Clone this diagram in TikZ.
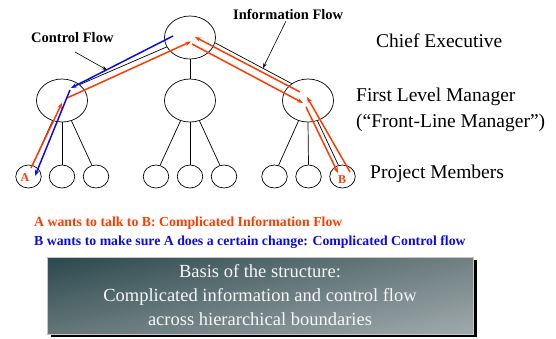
\documentclass[tikz,border=0pt]{standalone}
\usepackage{fontspec}
\setmainfont{Liberation Serif}
\usetikzlibrary{arrows.meta,shapes.geometric,shadings,shadows}

\definecolor{flowred}{RGB}{255,60,0}
\definecolor{flowblue}{RGB}{10,10,240}
\definecolor{slateA}{RGB}{42,72,78}
\definecolor{slateB}{RGB}{112,128,130}
\definecolor{slateC}{RGB}{100,118,120}
\definecolor{slateD}{RGB}{160,170,172}

\begin{document}
\begin{tikzpicture}[x=1pt,y=-1pt,
  mgr/.style={draw, ellipse, minimum width=51pt, minimum height=43pt, inner sep=0pt, line width=0.7pt},
  member/.style={draw, ellipse, minimum width=25.5pt, minimum height=23pt, inner sep=0pt, line width=0.7pt},
  treeedge/.style={line width=0.7pt},
  pointer/.style={line width=0.6pt, -{Stealth[length=5pt,width=3.5pt]}},
  redflow/.style={draw=flowred, line width=1.5pt, -{Stealth[length=6pt,width=4.5pt]}},
  blueflow/.style={draw=flowblue, line width=1.5pt, -{Stealth[length=6pt,width=4.5pt]}},
  rolelabel/.style={anchor=base west, inner sep=0pt, font=\fontsize{19.5}{22}\selectfont},
  flowlabel/.style={anchor=base west, inner sep=0pt, font=\fontsize{14.5}{16}\selectfont\bfseries},
  letter/.style={inner sep=0pt, text=flowred, font=\fontsize{12}{14}\selectfont\bfseries},
  note/.style={anchor=base west, inner sep=0pt, font=\fontsize{13.8}{16}\selectfont\bfseries},
  basisbox/.style={draw=gray!45, line width=0.6pt, minimum width=426pt, minimum height=77pt,
    upper left=slateA, upper right=slateB, lower left=slateC, lower right=slateD,
    drop shadow={shadow xshift=4pt, shadow yshift=-3pt, fill=black, opacity=1},
    align=center, text=white!94!gray, font=\fontsize{18.5}{24}\selectfont}
]
\useasboundingbox (0,0) rectangle (556,338);

% hierarchy: chief, first-level managers, project members
\node[mgr] (ceo) at (190,37.5) {};
\node[mgr] (ml) at (62,100.5) {};
\node[mgr] (mc) at (190,100.5) {};
\node[mgr] (mr) at (308,100.5) {};

\node[member] (a1) at (28.5,176.5) {};
\node[member] (a2) at (62,176.5) {};
\node[member] (a3) at (96,176.5) {};
\node[member] (c1) at (156,176.5) {};
\node[member] (c2) at (190,176.5) {};
\node[member] (c3) at (224,176.5) {};
\node[member] (r1) at (274.5,176.5) {};
\node[member] (r2) at (308.5,176.5) {};
\node[member] (r3) at (342.5,176.5) {};

\draw[treeedge] (ceo.202) -- (ml.42);
\draw[treeedge] (ceo.south) -- (mc.north);
\draw[treeedge] (ceo.348) -- (mr.134);
\foreach \p/\l/\m/\r in {ml/a1/a2/a3, mc/c1/c2/c3, mr/r1/r2/r3}{
  \draw[treeedge] (\p.245) -- (\l.70);
  \draw[treeedge] (\p.south) -- (\m.north);
  \draw[treeedge] (\p.295) -- (\r.110);
}

\node[letter] (labA) at (25,177.5) {A};
\node[letter] (labB) at (342,180) {B};

% waypoints of the information flow (red)
\coordinate (ra1) at (31,168);
\coordinate (ra2) at (62,103);
\coordinate (ra3) at (67,98);
\coordinate (ra4) at (191,41.5);
\coordinate (ra5) at (192,44);
\coordinate (ra6) at (303,103);
\coordinate (ra7) at (306,107);
\coordinate (ra8) at (338,173);
\coordinate (rb1) at (350,172);
\coordinate (rb2) at (307,97);
\coordinate (rb3) at (300,92);
\coordinate (rb4) at (195,37);
% waypoints of the control flow (blue)
\coordinate (bc1) at (173,36);
\coordinate (bc2) at (71,88);
\coordinate (bc3) at (70,90);
\coordinate (bc4) at (35,176);

\draw[redflow] (ra1) -- (ra2);
\draw[redflow] (ra3) -- (ra4);
\draw[redflow] (ra5) -- (ra6);
\draw[redflow] (ra7) -- (ra8);
\draw[redflow] (rb1) -- (rb2);
\draw[redflow] (rb3) -- (rb4);
\draw[blueflow] (bc1) -- (bc2);
\draw[blueflow] (bc3) -- (bc4);

% flow labels with pointers
\node[flowlabel] (cflab) at (31,42) {Control Flow};
\node[flowlabel] (iflab) at (233,19) {Information Flow};
\coordinate (cfp0) at (75,52);
\coordinate (cfp1) at (107,70);
\coordinate (ifp0) at (286,21);
\coordinate (ifp1) at (263,68);
\draw[pointer] (cfp0) -- (cfp1);
\draw[pointer] (ifp0) -- (ifp1);

% level names
\node[rolelabel] (lvl1) at (376,47) {Chief Executive};
\node[rolelabel] (lvl2) at (356,101) {First Level Manager};
\node[rolelabel] (lvl2b) at (356,127) {(“Front-Line Manager”)};
\node[rolelabel] (lvl3) at (370,178) {Project Members};

% explanations
\node[note, text=flowred] (noteA) at (34,226) {A wants to talk to B: Complicated Information Flow};
\node[note, text=flowblue] (noteB) at (34,245) {B wants to make sure A does a certain change: Complicated Control flow};

\node[basisbox] (basis) at (260,295.5) {Basis of the structure:\\Complicated information and control flow\\across hierarchical boundaries};
\end{tikzpicture}
\end{document}
